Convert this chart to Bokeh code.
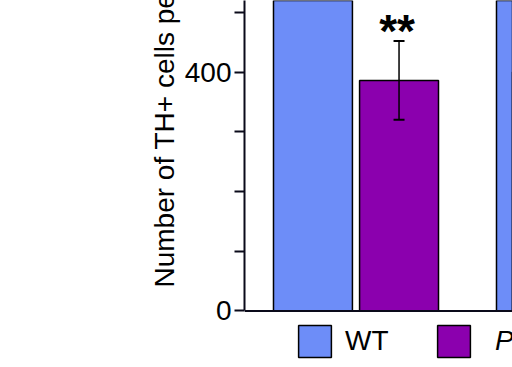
from bokeh.plotting import figure
from bokeh.models import (ColumnDataSource, Range1d, FixedTicker, Whisker, TeeHead,
                          Label, Legend, LegendItem, Title, Span)
from bokeh.embed import file_html
from bokeh.resources import INLINE

# ---- data ----
groups = ["Group 1", "Group 2"]
genotype_labels = ["WT", "Pink1"]
wt_values = [620, 615]
mut_values = [386, 400]
mut_sem = [66, 60]
significance = ["**", ""]
y_major_ticks = [0, 400, 800]
y_minor_ticks = [100, 200, 300, 500, 600, 700]
y_label = "Number of TH+ cells per"

WT_COLOR = "#6d8df8"
MUT_COLOR = "#8b00ae"
AXIS_COLOR = "#0a0a1a"
FONT = "Liberation Sans"

dodge = 0.193
bar_w = 0.354
idx = list(range(len(groups)))
wt_src = ColumnDataSource(dict(x=[i - dodge for i in idx], top=wt_values))
mut_src = ColumnDataSource(dict(
    x=[i + dodge for i in idx], top=mut_values,
    upper=[m + s for m, s in zip(mut_values, mut_sem)],
    lower=[m - s for m, s in zip(mut_values, mut_sem)],
))

Y_TOP = 519.7
p = figure(width=512, height=367, output_backend="svg", toolbar_location=None,
           x_range=Range1d(-0.5, 0.7018), y_range=Range1d(-94.6, Y_TOP),
           min_border_left=244, min_border_right=0, min_border_top=0,
           min_border_bottom=0)
p.outline_line_color = None
p.xgrid.visible = False
p.ygrid.visible = False
p.background_fill_color = "white"
p.border_fill_color = "white"

r_wt = p.vbar(x="x", top="top", bottom=0, width=bar_w, source=wt_src,
              fill_color=WT_COLOR, line_color="black", line_width=1.5)
r_mut = p.vbar(x="x", top="top", bottom=0, width=bar_w, source=mut_src,
               fill_color=MUT_COLOR, line_color="black", line_width=1.5)

wh = Whisker(base="x", upper="upper", lower="lower", source=mut_src,
             dimension="height", line_color="black", line_width=1.5,
             level="annotation",
             upper_head=TeeHead(size=11, line_width=2, line_color="black"),
             lower_head=TeeHead(size=11, line_width=2, line_color="black"))
p.add_layout(wh)

for i, s in enumerate(significance):
    if s:
        p.add_layout(Label(x=mut_src.data["x"][i], y=mut_src.data["upper"][i], text=s,
                           text_align="center", text_baseline="alphabetic",
                           x_offset=-2, y_offset=10, text_font=FONT, text_font_style="bold",
                           text_font_size="46px", text_color="black"))

# x axis line (baseline at 0)
p.xaxis.visible = False
p.add_layout(Span(location=0, dimension="width", line_color=AXIS_COLOR, line_width=2))

ya = p.yaxis[0]
ya.bounds = (0, Y_TOP)
ya.ticker = FixedTicker(ticks=y_major_ticks, minor_ticks=y_minor_ticks)
ya.axis_line_width = 2
ya.axis_line_color = AXIS_COLOR
ya.major_tick_out = 10
ya.major_tick_in = 0
ya.minor_tick_out = 10
ya.minor_tick_in = 0
ya.major_tick_line_width = 2
ya.minor_tick_line_width = 2
ya.major_tick_line_color = AXIS_COLOR
ya.minor_tick_line_color = AXIS_COLOR
ya.major_label_text_font = FONT
ya.major_label_text_font_size = "28px"
ya.major_label_text_color = "black"
ya.major_label_standoff = 3

# y-axis title as a left-side title so it can start near the bottom
p.add_layout(Title(text=y_label, align="left", offset=80, standoff=4,
                   text_font=FONT, text_font_size="28px", text_font_style="normal",
                   text_color="black"), "left")

def make_legend(label, rend, xloc, standoff, italic=False):
    lg = Legend(items=[LegendItem(label=label, renderers=[rend])],
                location=(xloc, 6), orientation="horizontal",
                glyph_width=41, glyph_height=40, label_standoff=standoff,
                label_text_font=FONT, label_text_font_size="28px",
                label_text_color="black",
                label_text_font_style="italic" if italic else "normal",
                padding=0, margin=0, spacing=0,
                border_line_color=None, background_fill_alpha=0)
    p.add_layout(lg, "center")

make_legend(genotype_labels[0], r_wt, 50, 10)
make_legend(genotype_labels[1], r_mut, 189, 21, italic=True)

open("out.html", "w").write(file_html(p, INLINE))
